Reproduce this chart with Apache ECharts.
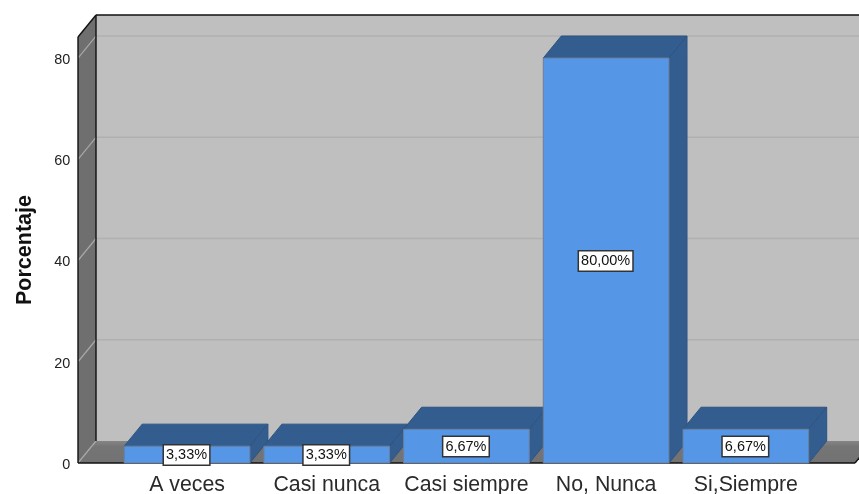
<!DOCTYPE html>
<html><head><meta charset="utf-8">
<style>html,body{margin:0;padding:0;background:#fff}#c{width:859px;height:494px}</style>
<script src="https://cdn.jsdelivr.net/npm/echarts@6/dist/echarts.min.js"></script>
</head><body><div id="c"></div>
<script>
const categories = ["A veces","Casi nunca","Casi siempre","No, Nunca","Si,Siempre"];
const values = [3.33,3.33,6.67,80,6.67];
const valueLabels = ["3,33%","3,33%","6,67%","80,00%","6,67%"];
const yTicks = [0,20,40,60,80];
const yTop = 84.15;
const dx = 18, dy = -22;          // depth of the 3D box
const wallLeft = 78, wallRight = 855;
const barRatio = 0.9;

const chart = echarts.init(document.getElementById('c'), null, {renderer:'canvas'});

function poly(points, fill, stroke, lw, z2){
  return {type:'polygon', shape:{points}, style:{fill, stroke:stroke||null, lineWidth:lw||0}, z2:z2||0, silent:true};
}
function line(x1,y1,x2,y2,stroke,lw,z2){
  return {type:'line', shape:{x1,y1,x2,y2}, style:{stroke, lineWidth:lw}, z2:z2||0, silent:true};
}
function renderWalls(params, api){
  const yB = api.coord([0,0])[1], yT = api.coord([0,yTop])[1];
  const L = wallLeft, R = wallRight;
  const ch = [];
  ch.push(poly([[L+dx,yT+dy],[R+dx,yT+dy],[R+dx,yB+dy],[L+dx,yB+dy]],'#bfbfbf'));
  ch.push(poly([[L,yT],[L+dx,yT+dy],[L+dx,yB+dy],[L,yB]],'#6f6f6f'));
  ch.push(poly([[L,yB],[L+dx,yB+dy],[R+dx,yB+dy],[R,yB]],{
    type:'linear',x:0,y:0,x2:0,y2:1,colorStops:[{offset:0,color:'#858585'},{offset:0.25,color:'#757575'},{offset:1,color:'#727272'}]
  }));
  yTicks.forEach(t=>{
    const y = api.coord([0,t])[1];
    if(t>0) ch.push(line(L+dx,y+dy,R+dx,y+dy,'#b0b0b0',1.6,1));
    ch.push(line(L,y,L+dx,y+dy,'#a8a8a8',1.2,1));
  });
  ch.push(line(L+dx,yT+dy,R+dx,yT+dy,'#111',1.6,2));
  ch.push(line(L,yT,L+dx,yT+dy,'#111',1.4,2));
  ch.push(line(L,yT,L,yB,'#111',1.4,2));
  ch.push(line(L+dx,yT+dy,L+dx,yB+dy,'#111',1.4,2));
  ch.push(line(L,yB,R,yB,'#111',1.4,2));
  ch.push(line(R,yB,R+dx,yB+dy,'#111',1.4,2));
  return {type:'group', children:ch};
}
function renderBar(params, api){
  const i = api.value(0), v = api.value(1);
  const top = api.coord([i,v]), base = api.coord([i,0]);
  const w = api.size([1,0])[0]*barRatio;
  const x0 = top[0]-w/2, x1 = top[0]+w/2, yT = top[1], yB = base[1];
  const edge = '#6a7f9a';
  const ch = [
    poly([[x0,yT],[x0+dx,yT+dy],[x1+dx,yT+dy],[x1,yT]],'#335c8f','#2f5480',1),
    poly([[x1,yT],[x1+dx,yT+dy],[x1+dx,yB+dy],[x1,yB]],'#335c8f','#2f5480',1),
    {type:'rect', shape:{x:x0,y:yT,width:w,height:yB-yT}, style:{fill:'#5596e6',stroke:edge,lineWidth:1}, silent:true},
    {type:'text', x:top[0]-0.5, y:(yT+yB)/2+0.5, z2:5, silent:true, style:{
      text:valueLabels[i], fill:'#111', font:'14.5px "Liberation Sans", Arial, sans-serif',
      align:'center', verticalAlign:'middle', backgroundColor:'#fff',
      borderColor:'#333', borderWidth:1.5, padding:[2,2,2,2], borderRadius:0
    }}
  ];
  return {type:'group', children:ch};
}
chart.setOption({
  animation:false,
  backgroundColor:'#fff',
  grid:{left:117.2,right:43.3,top:37,bottom:31,containLabel:false,outerBoundsMode:'none'},
  xAxis:{type:'category',data:categories,boundaryGap:true,
    axisLine:{show:false},axisTick:{show:false},splitLine:{show:false},
    axisLabel:{color:'#2a2a2a',fontFamily:'"Liberation Sans", Arial, sans-serif',fontSize:21.3,margin:12,interval:0}},
  yAxis:{type:'value',min:0,max:yTop,interval:20,
    axisLine:{show:false},axisTick:{show:false},splitLine:{show:false},
    axisLabel:{margin:47,showMaxLabel:false,formatter:v=>'{t|'+v+'}',
      rich:{t:{color:'#222',fontFamily:'"Liberation Sans", Arial, sans-serif',fontSize:14.4,padding:[4,0,0,0]}}},
    name:'Porcentaje',nameLocation:'middle',nameGap:81,nameRotate:90,
    nameTextStyle:{color:'#111',fontFamily:'"Liberation Sans", Arial, sans-serif',fontSize:21.5,fontWeight:'bold'}},
  series:[
    {type:'custom',coordinateSystem:'cartesian2d',clip:false,silent:true,z:1,renderItem:renderWalls,data:[[0,0]]},
    {type:'custom',coordinateSystem:'cartesian2d',clip:false,silent:true,z:2,renderItem:renderBar,
     encode:{x:0,y:1},data:values.map((v,i)=>[i,v])}
  ]
});
</script></body></html>
